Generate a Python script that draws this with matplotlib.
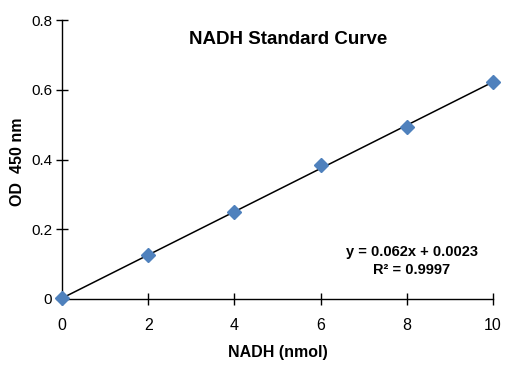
import matplotlib.pyplot as plt

# Standard curve readings
nadh_nmol = [0, 2, 4, 6, 8, 10]
od_450 = [0.002, 0.125, 0.250, 0.383, 0.494, 0.622]

# Linear trendline shown on the chart
slope = 0.062
intercept = 0.0023
r_squared = 0.9997

x_ticks = [0, 2, 4, 6, 8, 10]
y_ticks = [0, 0.2, 0.4, 0.6, 0.8]
y_tick_labels = ["0", "0.2", "0.4", "0.6", "0.8"]

plt.rcParams["font.family"] = ["Liberation Sans", "DejaVu Sans"]

fig = plt.figure(figsize=(5.07, 3.70), dpi=100)
ax = fig.add_axes([62 / 507, 1 - 299 / 370, (493 - 62) / 507, (299 - 20) / 370])

fit_x = [nadh_nmol[0], nadh_nmol[-1]]
fit_y = [slope * v + intercept for v in fit_x]
ax.plot(fit_x, fit_y, color="black", lw=1.1, zorder=2)
ax.plot(nadh_nmol, od_450, ls="none", marker="D", ms=7.5,
        color="#4F81BD", mec="#4F81BD", zorder=3, clip_on=False)

ax.set_xlim(0, 10)
ax.set_ylim(0, 0.8)
ax.set_xticks(x_ticks)
ax.set_xticklabels([str(v) for v in x_ticks])
ax.set_yticks(y_ticks)
ax.set_yticklabels(y_tick_labels)
ax.tick_params(axis="x", direction="inout", length=9, width=1, labelsize=11.5, pad=9)
ax.tick_params(axis="y", direction="inout", length=8, width=1, labelsize=11, pad=3)

for side in ("top", "right"):
    ax.spines[side].set_visible(False)
for side in ("left", "bottom"):
    ax.spines[side].set_linewidth(1)

ax.set_xlabel("NADH (nmol)", fontsize=11.5, fontweight="bold")
ax.xaxis.set_label_coords(0.5, -(352 - 299) / 279)
ax.set_ylabel("OD  450 nm", fontsize=11.5, fontweight="bold")
ax.yaxis.set_label_coords(-(62 - 18) / 431, (299 - 162) / 279)
ax.xaxis.label.set_va("center")
ax.yaxis.label.set_va("center")

fig.text(288 / 507, 1 - 40 / 370, "NADH Standard Curve", ha="center",
         va="center", fontsize=13.5, fontweight="bold")

fig.text(412 / 507, 1 - 252 / 370, f"y = {slope:g}x + {intercept:g}",
         ha="center", va="center", fontsize=10.5, fontweight="bold")
fig.text(412 / 507, 1 - 270 / 370, f"R\u00b2 = {r_squared:g}",
         ha="center", va="center", fontsize=10.5, fontweight="bold")

fig.savefig("out.png", dpi=100)
